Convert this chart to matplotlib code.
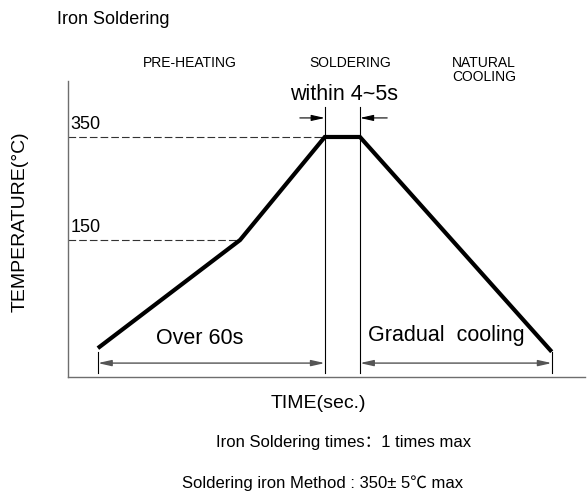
import matplotlib
matplotlib.use("Agg")
import matplotlib.pyplot as plt

plt.rcParams['font.family'] = ['Liberation Sans', 'Noto Sans CJK SC', 'DejaVu Sans']
plt.rcParams['lines.scale_dashes'] = False

# ---- data (schematic profile) ----
time_s = [0, 37.6, 60, 69.3, 120]
temp_c = [-60, 150, 350, 350, -67]
ref_temps = [150, 350]
ref_labels = ["150", "350"]
ref_end_time = [37.6, 60]
phase_names = ["PRE-HEATING", "SOLDERING", "NATURAL\nCOOLING"]
soak_bounds = [60, 69.3]
span_labels = ["Over 60s", "Gradual  cooling"]
span_ranges = [(0, 60), (69.3, 120)]

W, H = 587, 499
fig = plt.figure(figsize=(W / 100, H / 100), dpi=100)

def fx(px):
    return px / W

def fy(py):
    return 1 - py / H

ax = fig.add_axes([fx(68), fy(377), fx(585) - fx(68), fy(81) - fy(377)])
xmin, xmax = -7.9, 128.8
ymin, ymax = -116, 458.7
ax.set_xlim(xmin, xmax)
ax.set_ylim(ymin, ymax)
for s in ['top', 'right']:
    ax.spines[s].set_visible(False)
for s in ['left', 'bottom']:
    ax.spines[s].set_color('#6e6e6e')
    ax.spines[s].set_linewidth(1.0)
ax.set_xticks([])
ax.set_yticks([])

# reference dashed lines and labels
for t, lab, te in zip(ref_temps, ref_labels, ref_end_time):
    ax.plot([xmin, te], [t, t], color='#333333', lw=0.8, dashes=(5.5, 2.2))
    ax.text(-7.2, t + 8, lab, fontsize=13, ha='left', va='bottom', color='black')

# profile curve
ax.plot(time_s, temp_c, color='black', lw=3.0, solid_joinstyle='miter', solid_capstyle='butt')

# soldering window vertical lines
for b in soak_bounds:
    ax.plot([b, b], [-108, 408], color='black', lw=0.8)
# top dimension arrows
ap = dict(arrowstyle='-|>,head_length=0.8,head_width=0.18', color='black', lw=0.8,
          shrinkA=0, shrinkB=0)
ax.annotate('', xy=(soak_bounds[0], 387), xytext=(53.4, 387), arrowprops=ap)
ax.annotate('', xy=(soak_bounds[1], 387), xytext=(76.5, 387), arrowprops=ap)

# bottom span dimension lines
ap2 = dict(arrowstyle='<|-|>,head_length=0.8,head_width=0.18', color='#555555', lw=1.0,
           shrinkA=0, shrinkB=0)
for (a, b) in span_ranges:
    ax.annotate('', xy=(b, -89), xytext=(a, -89), arrowprops=ap2)
for t in [span_ranges[0][0], span_ranges[1][1]]:
    ax.plot([t, t], [-67.5, -108], color='black', lw=0.8)

# texts
fig.text(fx(57), fy(19), "Iron Soldering", fontsize=13, ha='left', va='center')
fig.text(fx(190), fy(63), phase_names[0], fontsize=10, ha='center', va='center')
fig.text(fx(350), fy(63), phase_names[1], fontsize=10, ha='center', va='center')
fig.text(fx(484), fy(70), phase_names[2], fontsize=10, ha='center', va='center', linespacing=0.95)
fig.text(fx(344), fy(94), "within 4~5s", fontsize=15.5, ha='center', va='center')
fig.text(fx(200), fy(338), span_labels[0], fontsize=15.5, ha='center', va='center')
fig.text(fx(446), fy(336), span_labels[1], fontsize=15.5, ha='center', va='center')
fig.text(fx(20), fy(222), "TEMPERATURE(°C)", fontsize=14, rotation=90, ha='center', va='center')
fig.text(fx(318), fy(404), "TIME(sec.)", fontsize=14, ha='center', va='center')
fig.text(fx(344), fy(443), "Iron Soldering times：1 times max", fontsize=12, ha='center', va='center')
fig.text(fx(323), fy(483), "Soldering iron Method : 350± 5℃ max", fontsize=12, ha='center', va='center')

fig.savefig("out.png", dpi=100)
